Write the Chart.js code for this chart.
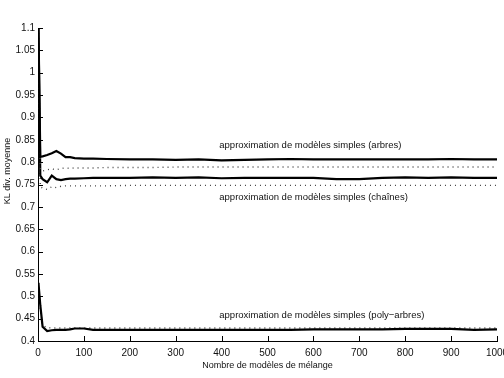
<!DOCTYPE html>
<html>
<head>
<meta charset="utf-8">
<script src="https://cdn.jsdelivr.net/npm/chart.js@4/dist/chart.umd.min.js"></script>
<style>
  html, body { margin: 0; padding: 0; background: #fff; overflow: hidden; }
  #wrap { width: 504px; height: 378px; overflow: hidden; position: relative; }
  #wrap canvas { position: absolute; left: 0; top: 0; }
</style>
</head>
<body>
<div id="wrap"><canvas id="chart" width="530" height="378"></canvas></div>
<script>
// Nombre de modèles de mélange (x positions shared by every curve)
const mixtureCounts = [1, 5, 10, 20, 30, 40, 50, 60, 70, 80, 100, 120, 150, 200, 250, 300, 350, 400, 450, 500, 550, 600, 650, 700, 750, 800, 850, 900, 950, 1000];

// arbres
const treesSolid  = [1.1, 0.812, 0.813, 0.816, 0.820, 0.825, 0.819, 0.811, 0.811, 0.809, 0.808, 0.808, 0.807, 0.806, 0.806, 0.805, 0.806, 0.804, 0.805, 0.806, 0.807, 0.806, 0.806, 0.806, 0.806, 0.806, 0.806, 0.807, 0.806, 0.806];
const treesDotted = [1.1, 0.783, 0.780, 0.783, 0.785, 0.783, 0.786, 0.787, 0.786, 0.787, 0.787, 0.787, 0.788, 0.788, 0.788, 0.789, 0.789, 0.789, 0.789, 0.789, 0.789, 0.789, 0.789, 0.789, 0.789, 0.789, 0.789, 0.789, 0.789, 0.789];

// chaînes
const chainsSolid  = [1.1, 0.770, 0.762, 0.755, 0.770, 0.762, 0.760, 0.762, 0.763, 0.763, 0.764, 0.765, 0.765, 0.765, 0.766, 0.765, 0.766, 0.764, 0.765, 0.765, 0.765, 0.765, 0.762, 0.762, 0.765, 0.766, 0.765, 0.766, 0.765, 0.765];
const chainsDotted = [1.1, 0.745, 0.742, 0.739, 0.745, 0.743, 0.746, 0.747, 0.747, 0.747, 0.747, 0.747, 0.747, 0.748, 0.748, 0.748, 0.748, 0.748, 0.748, 0.748, 0.748, 0.748, 0.748, 0.748, 0.748, 0.748, 0.748, 0.748, 0.748, 0.748];

// poly-arbres
const polySolid  = [0.530, 0.480, 0.432, 0.422, 0.424, 0.425, 0.425, 0.425, 0.426, 0.428, 0.428, 0.425, 0.425, 0.425, 0.425, 0.425, 0.425, 0.425, 0.425, 0.425, 0.425, 0.426, 0.426, 0.426, 0.426, 0.427, 0.427, 0.427, 0.425, 0.426];
const polyDotted = [0.530, 0.470, 0.435, 0.430, 0.429, 0.429, 0.429, 0.429, 0.429, 0.429, 0.429, 0.429, 0.429, 0.429, 0.429, 0.429, 0.429, 0.429, 0.429, 0.429, 0.429, 0.429, 0.429, 0.429, 0.429, 0.429, 0.429, 0.429, 0.429, 0.429];

const curveLabels = [
    { text: 'approximation de modèles simples (arbres)', x: 395, y: 0.838 },
    { text: 'approximation de modèles simples (chaînes)', x: 395, y: 0.722 },
    { text: 'approximation de modèles simples (poly\u2212arbres)', x: 395, y: 0.458 }
];

const FONT = '"Liberation Sans", Arial, sans-serif';

function toPoints(values) {
    return values.map((v, i) => ({ x: mixtureCounts[i], y: v }));
}

function solid(values) {
    return { data: toPoints(values), borderColor: '#000', borderWidth: 2.2, pointRadius: 0, tension: 0 };
}

function dotted(values) {
    return { data: toPoints(values), borderColor: '#444', borderWidth: 1.4, borderDash: [1, 4], pointRadius: 0, tension: 0 };
}

// inward tick marks, like the original figure
const innerTicks = {
    id: 'innerTicks',
    afterDraw(chart) {
        const ctx = chart.ctx;
        const xs = chart.scales.x, ys = chart.scales.y;
        const area = chart.chartArea;
        ctx.save();
        ctx.strokeStyle = '#000';
        ctx.lineWidth = 1;
        ctx.beginPath();
        xs.ticks.forEach(t => {
            const px = Math.round(xs.getPixelForValue(t.value)) + 0.5;
            ctx.moveTo(px, area.bottom);
            ctx.lineTo(px, area.bottom - 5);
        });
        ys.ticks.forEach(t => {
            const py = Math.round(ys.getPixelForValue(t.value)) + 0.5;
            ctx.moveTo(area.left, py);
            ctx.lineTo(area.left + 5, py);
        });
        ctx.stroke();
        ctx.restore();
    }
};

// curve captions and y axis title
const captions = {
    id: 'captions',
    afterDraw(chart) {
        const ctx = chart.ctx;
        const xs = chart.scales.x, ys = chart.scales.y;
        ctx.save();
        ctx.fillStyle = '#111';
        ctx.font = '9.5px ' + FONT;
        ctx.textBaseline = 'middle';
        ctx.textAlign = 'left';
        curveLabels.forEach(l => {
            ctx.fillText(l.text, xs.getPixelForValue(l.x), ys.getPixelForValue(l.y));
        });
        ctx.font = '9px ' + FONT;
        ctx.translate(8, 171);
        ctx.rotate(-Math.PI / 2);
        ctx.textAlign = 'center';
        ctx.fillText('KL div. moyenne', 0, 0);
        ctx.restore();
    }
};

const ctx = document.getElementById('chart').getContext('2d');
new Chart(ctx, {
    type: 'line',
    data: {
        datasets: [
            solid(treesSolid), dotted(treesDotted),
            solid(chainsSolid), dotted(chainsDotted),
            solid(polySolid), dotted(polyDotted)
        ]
    },
    options: {
        responsive: false,
        animation: false,
        layout: { padding: { top: 28, right: 33, left: 0, bottom: 0 } },
        plugins: { legend: { display: false }, tooltip: { enabled: false } },
        scales: {
            x: {
                type: 'linear',
                min: 0,
                max: 1000,
                border: { display: true, color: '#000', width: 1 },
                grid: { drawOnChartArea: false, drawTicks: false },
                ticks: {
                    stepSize: 100,
                    padding: 6,
                    color: '#111',
                    font: { family: FONT, size: 10 },
                    maxRotation: 0,
                    callback: v => String(v)
                },
                title: { display: true, text: 'Nombre de modèles de mélange', color: '#111', font: { family: FONT, size: 9 }, padding: { top: 0, bottom: 7 } },
                afterFit(scale) { scale.height = 37; }
            },
            y: {
                min: 0.4,
                max: 1.1,
                border: { display: true, color: '#000', width: 1 },
                grid: { drawOnChartArea: false, drawTicks: false },
                ticks: {
                    stepSize: 0.05,
                    padding: 3,
                    color: '#111',
                    font: { family: FONT, size: 10 },
                    callback: v => String(Math.round(v * 100) / 100)
                },
                afterFit(scale) { scale.width = 38; }
            }
        }
    },
    plugins: [innerTicks, captions]
});
</script>
</body>
</html>
